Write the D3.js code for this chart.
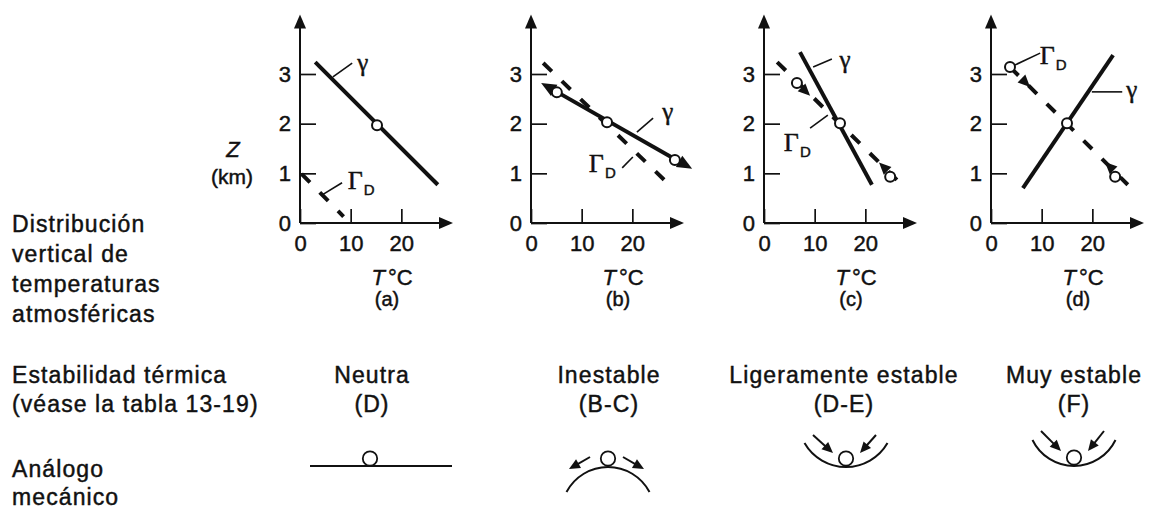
<!DOCTYPE html>
<html><head><meta charset="utf-8">
<script src="https://cdn.jsdelivr.net/npm/d3@7"></script>
<style>
body{margin:0;background:#fff;}
svg text{font-family:"Liberation Sans",Arial,sans-serif;fill:#111;stroke:#111;stroke-width:0.45px;}
</style></head><body>
<svg id="c" width="1151" height="510"></svg>
<script>
// ---------------- data ----------------
const panelIds = ["(a)", "(b)", "(c)", "(d)"];
const xTicks = [0, 10, 20];
const yTicks = [0, 1, 2, 3];
const xTickLabels = ["0", "10", "20"];
const yTickLabels = ["0", "1", "2", "3"];
// γ : ambient lapse-rate line, endpoints [T °C, Z km]
const gammaLine = [
  [[3.0, 3.24], [27.2, 0.77]],
  [[2.0, 2.82], [31.8, 1.09]],
  [[7.1, 3.44], [21.3, 0.77]],
  [[6.3, 0.70], [24.1, 3.38]]
];
// Γ_D : dry adiabatic line (dashed), endpoints [T, Z]
const dryLine = [
  [[0.3, 0.99], [8.6, 0.13]],
  [[2.4, 3.22], [27.4, 0.76]],
  [[2.6, 3.24], [27.2, 0.77]],
  [[3.75, 3.14], [27.0, 0.77]]
];
// air parcels (open circles) [T, Z]
const parcels = [
  [[15.2, 1.97]],
  [[5.1, 2.63], [15.0, 2.03], [28.4, 1.27]],
  [[6.5, 2.82], [15.0, 2.01], [24.9, 0.93]],
  [[3.75, 3.14], [15.0, 2.01], [24.5, 0.93]]
];
// parcel motion arrowheads on Γ_D: [base, tip] in [T, Z]
const parcelArrows = [
  [],
  [],
  [[[7.4, 2.73], [9.1, 2.56]], [[24.4, 1.05], [22.7, 1.22]]],
  [[[6.0, 2.91], [7.7, 2.74]], [[24.2, 1.06], [22.5, 1.23]]]
];
const gammaEndArrows = [false, true, false, false];
const stabilityNames = ["Neutra", "Inestable", "Ligeramente estable", "Muy estable"];
const stabilityClasses = ["(D)", "(B-C)", "(D-E)", "(F)"];
const analogKinds = ["flat", "hill", "bowl", "bowl"];
const rowLabel1 = ["Distribución", "vertical de", "temperaturas", "atmosféricas"];
const rowLabel2 = ["Estabilidad térmica", "(véase la tabla 13-19)"];
const rowLabel3 = ["Análogo", "mecánico"];

// ---------------- layout ----------------
const originX = [300, 531, 764, 991];
const originY = 223;
const pxPerDeg = 5.067, pxPerKm = 49.67;
// label anchors in data space per panel (g: γ centre, G: Γ centre, gl/Gl: leader lines)
const labelLayout = [
  {g:[12.4,3.18], gl:[[6.5,2.94],[10.3,3.22]], G:[11.0,0.87], Gl:[[4.3,0.56],[8.3,0.81]]},
  {g:[27.0,2.19], gl:[[20.9,1.83],[24.1,2.11]], G:[13.0,1.21], Gl:[[18.0,1.11],[20.1,1.33]]},
  {g:[16.0,3.24], gl:[[9.7,3.14],[13.4,3.3]],  G:[5.5,1.63],  Gl:[[9.1,1.91],[12.6,2.17]]},
  {g:[27.8,2.64], gl:[[19.9,2.64],[25.9,2.64]], G:[11.2,3.38], Gl:[[4.7,3.18],[9.7,3.42]]}
];
const colCenters = [372, 609, 844, 1074];
const INK = "#111";

const svg = d3.select("#c");

function head(tip, from, len, wid) {
  const dx = tip[0]-from[0], dy = tip[1]-from[1];
  const L = Math.hypot(dx, dy), ux = dx/L, uy = dy/L;
  const bx = tip[0]-ux*len, by = tip[1]-uy*len, px = -uy, py = ux;
  return `M${tip[0]},${tip[1]}L${bx+px*wid/2},${by+py*wid/2}L${bx-px*wid/2},${by-py*wid/2}Z`;
}

panelIds.forEach((pid, i) => {
  const x0 = originX[i];
  const x = d3.scaleLinear().domain([0, 30]).range([x0, x0 + 30*pxPerDeg]);
  const y = d3.scaleLinear().domain([0, 3]).range([originY, originY - 3*pxPerKm]);
  const g = svg.append("g");
  const P = d => [x(d[0]), y(d[1])];

  // axes (ticks + labels)
  const ya = g.append("g").attr("transform", `translate(${x(0)},0)`)
    .call(d3.axisLeft(y).tickValues(yTicks).tickFormat((d, k) => yTickLabels[k]).tickSize(-16).tickPadding(9));
  const xa = g.append("g").attr("transform", `translate(0,${y(0)})`)
    .call(d3.axisBottom(x).tickValues(xTicks).tickFormat((d, k) => xTickLabels[k]).tickSize(-14).tickPadding(12));
  [ya, xa].forEach(a => {
    a.attr("font-size", null).attr("font-family", null);
    a.select(".domain").remove();
    a.selectAll(".tick line").attr("stroke", INK).attr("stroke-width", 1.7);
    a.selectAll(".tick text").attr("fill", INK).style("font-size", "22px");
  });
  // axis lines with arrows
  const yTip = [x(0), y(4.2)], xTip = [x(30.2), y(0)];
  g.append("line").attr("x1", x(0)).attr("y1", y(0)).attr("x2", x(0)).attr("y2", yTip[1] + 10)
    .attr("stroke", INK).attr("stroke-width", 2);
  g.append("line").attr("x1", x(0)).attr("y1", y(0)).attr("x2", xTip[0] - 10).attr("y2", y(0))
    .attr("stroke", INK).attr("stroke-width", 2);
  g.append("path").attr("d", head(yTip, [x(0), y(0)], 14, 12)).attr("fill", INK);
  g.append("path").attr("d", head(xTip, [x(0), y(0)], 14, 12)).attr("fill", INK);

  // Γ_D dashed
  const line = d3.line().x(d => x(d[0])).y(d => y(d[1]));
  g.append("path").attr("d", line(dryLine[i])).attr("fill", "none").attr("stroke", INK)
    .attr("stroke-width", 4).attr("stroke-dasharray", "12,14");

  // γ solid
  const gpts = gammaLine[i].map(P);
  if (gammaEndArrows[i]) {
    const [a, b] = gpts, L = Math.hypot(b[0]-a[0], b[1]-a[1]);
    const ux = (b[0]-a[0])/L, uy = (b[1]-a[1])/L, s = 10;
    g.append("line").attr("x1", a[0]+ux*s).attr("y1", a[1]+uy*s).attr("x2", b[0]-ux*s).attr("y2", b[1]-uy*s)
      .attr("stroke", INK).attr("stroke-width", 4);
    g.append("path").attr("d", head(a, b, 15, 13)).attr("fill", INK);
    g.append("path").attr("d", head(b, a, 15, 13)).attr("fill", INK);
  } else {
    g.append("path").attr("d", line(gammaLine[i])).attr("fill", "none").attr("stroke", INK).attr("stroke-width", 4);
  }

  // parcel arrows
  parcelArrows[i].forEach(ar => {
    g.append("path").attr("d", head(P(ar[1]), P(ar[0]), 12, 11)).attr("fill", INK);
  });

  // parcels
  g.selectAll("circle.parcel").data(parcels[i]).join("circle").attr("class", "parcel")
    .attr("cx", d => x(d[0])).attr("cy", d => y(d[1])).attr("r", 5)
    .attr("fill", "#fff").attr("stroke", INK).attr("stroke-width", 2);

  // annotations
  const L = labelLayout[i];
  [L.gl, L.Gl].forEach(seg => {
    g.append("line").attr("x1", x(seg[0][0])).attr("y1", y(seg[0][1]))
      .attr("x2", x(seg[1][0])).attr("y2", y(seg[1][1])).attr("stroke", INK).attr("stroke-width", 1.6);
  });
  g.append("text").attr("x", x(L.g[0])).attr("y", y(L.g[1])).attr("dy", "0.25em")
    .attr("text-anchor", "middle").style("font-family", "'Liberation Serif',serif").style("font-size", "25px").text("γ");
  const gd = g.append("text").attr("x", x(L.G[0]) - 8).attr("y", y(L.G[1]) + 9);
  gd.append("tspan").style("font-family", "'Liberation Serif',serif").style("font-size", "26px").text("Γ");
  gd.append("tspan").attr("dx", 1).attr("dy", 6).style("font-size", "15px").text("D");

  // axis title + panel letter
  const t = g.append("text").attr("x", x0 + 92).attr("y", 285).attr("text-anchor", "middle").style("font-size", "22px");
  t.append("tspan").style("font-style", "italic").text("T");
  t.append("tspan").attr("dx", 3).text("°C");
  g.append("text").attr("x", x0 + 87).attr("y", 306).attr("text-anchor", "middle").style("font-size", "20px").text(pid);

  if (i === 0) {
    g.append("text").attr("x", x0 - 67).attr("y", 157).attr("text-anchor", "middle")
      .style("font-size", "22px").style("font-style", "italic").text("Z");
    g.append("text").attr("x", x0 - 68).attr("y", 184).attr("text-anchor", "middle")
      .style("font-size", "21px").text("(km)");
  }
});

// left row labels
const leftText = (lines, y0, dy) => lines.forEach((s, k) =>
  svg.append("text").attr("x", 12).attr("y", y0 + k*dy).style("font-size", "23px")
    .style("letter-spacing", "1.1px").text(s));
leftText(rowLabel1, 232, 30);
leftText(rowLabel2, 383, 29);
leftText(rowLabel3, 477, 28);

// stability labels
stabilityNames.forEach((s, k) => {
  svg.append("text").attr("x", colCenters[k]).attr("y", 383).attr("text-anchor", "middle")
    .style("font-size", "23px").style("letter-spacing", "1.1px").text(s);
  svg.append("text").attr("x", colCenters[k]).attr("y", 412).attr("text-anchor", "middle")
    .style("font-size", "23px").style("letter-spacing", "1.1px").text(stabilityClasses[k]);
});

// mechanical analogs
function analogArrow(from, tip) {
  const dx = tip[0]-from[0], dy = tip[1]-from[1], L = Math.hypot(dx, dy);
  const e = [tip[0]-dx/L*8, tip[1]-dy/L*8];
  svg.append("line").attr("x1", from[0]).attr("y1", from[1]).attr("x2", e[0]).attr("y2", e[1])
    .attr("stroke", INK).attr("stroke-width", 2);
  svg.append("path").attr("d", head(tip, from, 11, 10)).attr("fill", INK);
}
analogKinds.forEach((kind, k) => {
  const cx = colCenters[k];
  if (kind === "flat") {
    svg.append("line").attr("x1", cx - 62).attr("x2", cx + 80).attr("y1", 466).attr("y2", 466)
      .attr("stroke", INK).attr("stroke-width", 2);
    svg.append("circle").attr("cx", cx - 2).attr("cy", 458.5).attr("r", 7.2)
      .attr("fill", "#fff").attr("stroke", INK).attr("stroke-width", 1.8);
  } else if (kind === "hill") {
    const R = 46.9, c = [cx - 1, 467 + R], a = Math.asin(41.5 / R);
    const p = d3.path(); p.arc(c[0], c[1], R, -Math.PI/2 - a, -Math.PI/2 + a);
    svg.append("path").attr("d", p.toString()).attr("fill", "none").attr("stroke", INK).attr("stroke-width", 2);
    svg.append("circle").attr("cx", cx - 1).attr("cy", 458.5).attr("r", 7.2)
      .attr("fill", "#fff").attr("stroke", INK).attr("stroke-width", 1.8);
    analogArrow([cx - 19, 457], [cx - 40, 469]);
    analogArrow([cx + 14, 457], [cx + 35, 469]);
  } else {
    const deep = k === 3;
    const yb = deep ? 466 : 467, sag = deep ? 26 : 24;
    const R = (41.5*41.5 + sag*sag) / (2*sag), c = [cx + (deep ? 0 : 2), yb - R], a = Math.asin(41.5 / R);
    const p = d3.path(); p.arc(c[0], c[1], R, Math.PI/2 + a, Math.PI/2 - a, true);
    svg.append("path").attr("d", p.toString()).attr("fill", "none").attr("stroke", INK).attr("stroke-width", 2);
    svg.append("circle").attr("cx", c[0]).attr("cy", yb - 8.5).attr("r", 7.2)
      .attr("fill", "#fff").attr("stroke", INK).attr("stroke-width", 1.8);
    const off = deep ? -2 : 0;
    analogArrow([c[0] - 33, 435 + off*2], [c[0] - 13, 453 + off]);
    analogArrow([c[0] + 30, 435 + off*2], [c[0] + 14, 453 + off]);
  }
});
</script>
</body></html>
